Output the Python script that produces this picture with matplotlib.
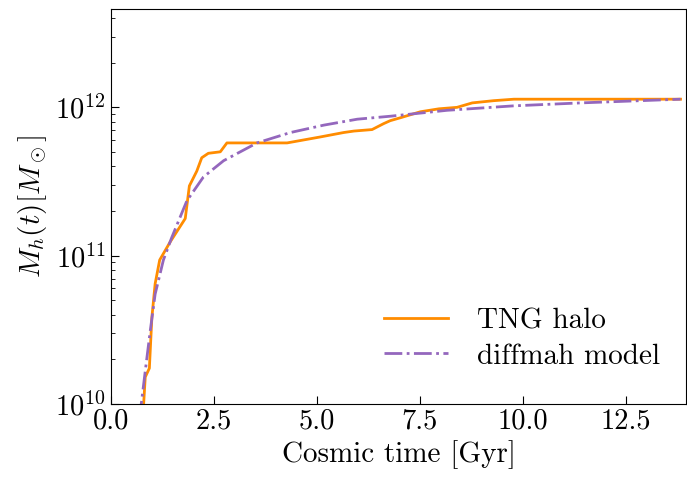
import matplotlib
matplotlib.use('Agg')
import matplotlib.pyplot as plt
import numpy as np

# cosmic time [Gyr] and log10 halo mass
t_tng = [0.78, 0.84, 0.94, 1.00, 1.08, 1.19, 1.44, 1.81, 1.91, 2.09, 2.21,
         2.37, 2.66, 2.82, 4.28, 5.08, 5.65, 5.90, 6.34, 6.62, 6.78, 7.03,
         7.51, 7.96, 8.40, 8.77, 9.29, 9.78, 13.82]
logm_tng = [9.9, 10.18, 10.24, 10.58, 10.81, 10.97, 11.09, 11.25, 11.47,
            11.57, 11.66, 11.69, 11.70, 11.76, 11.76, 11.80, 11.83, 11.84,
            11.85, 11.89, 11.91, 11.93, 11.97, 11.99, 12.00, 12.03, 12.045,
            12.055, 12.055]

t_model = [0.70, 0.84, 0.96, 1.08, 1.28, 1.48, 1.85, 2.25, 2.74, 3.55, 4.36,
           5.17, 5.98, 6.78, 8.16, 9.77, 11.4, 13.82]
logm_model = [9.9, 10.22, 10.49, 10.74, 10.97, 11.12, 11.37, 11.53, 11.64,
              11.76, 11.83, 11.88, 11.92, 11.94, 11.98, 12.01, 12.03, 12.055]

plt.rcParams['font.family'] = ['cmr10', 'DejaVu Serif']
plt.rcParams['mathtext.fontset'] = 'cm'
plt.rcParams['axes.formatter.use_mathtext'] = True
plt.rcParams['font.size'] = 20

fig = plt.figure(figsize=(6.87, 4.79), dpi=100)
ax = fig.add_axes([0.161, 0.157, 0.838, 0.824])

ax.plot(t_tng, 10 ** np.array(logm_tng), '-', color='#ff8c00', lw=2,
        label='TNG halo')
ax.plot(t_model, 10 ** np.array(logm_model), '-.', color='#9467bd', lw=2,
        label='diffmah model')

ax.set_yscale('log')
ax.set_xlim(0, 13.96)
ax.set_ylim(1e10, 4.6e12)
ax.set_xticks([0, 2.5, 5, 7.5, 10, 12.5])
ax.set_xticklabels(['0.0', '2.5', '5.0', '7.5', '10.0', '12.5'])
ax.tick_params(which='both', direction='in', labelsize=20.5)
ax.tick_params(which='major', length=6)
ax.tick_params(which='minor', length=3)

ax.set_xlabel('Cosmic time [Gyr]', fontsize=21)
ax.set_ylabel(r'$M_h(t) [M_\odot]$', fontsize=21)
ax.legend(loc='lower right', frameon=False, fontsize=21, handlelength=2.2,
          handletextpad=1.0, labelspacing=0.3, bbox_to_anchor=(1.0, 0.02))

fig.savefig('out.png', dpi=100)
